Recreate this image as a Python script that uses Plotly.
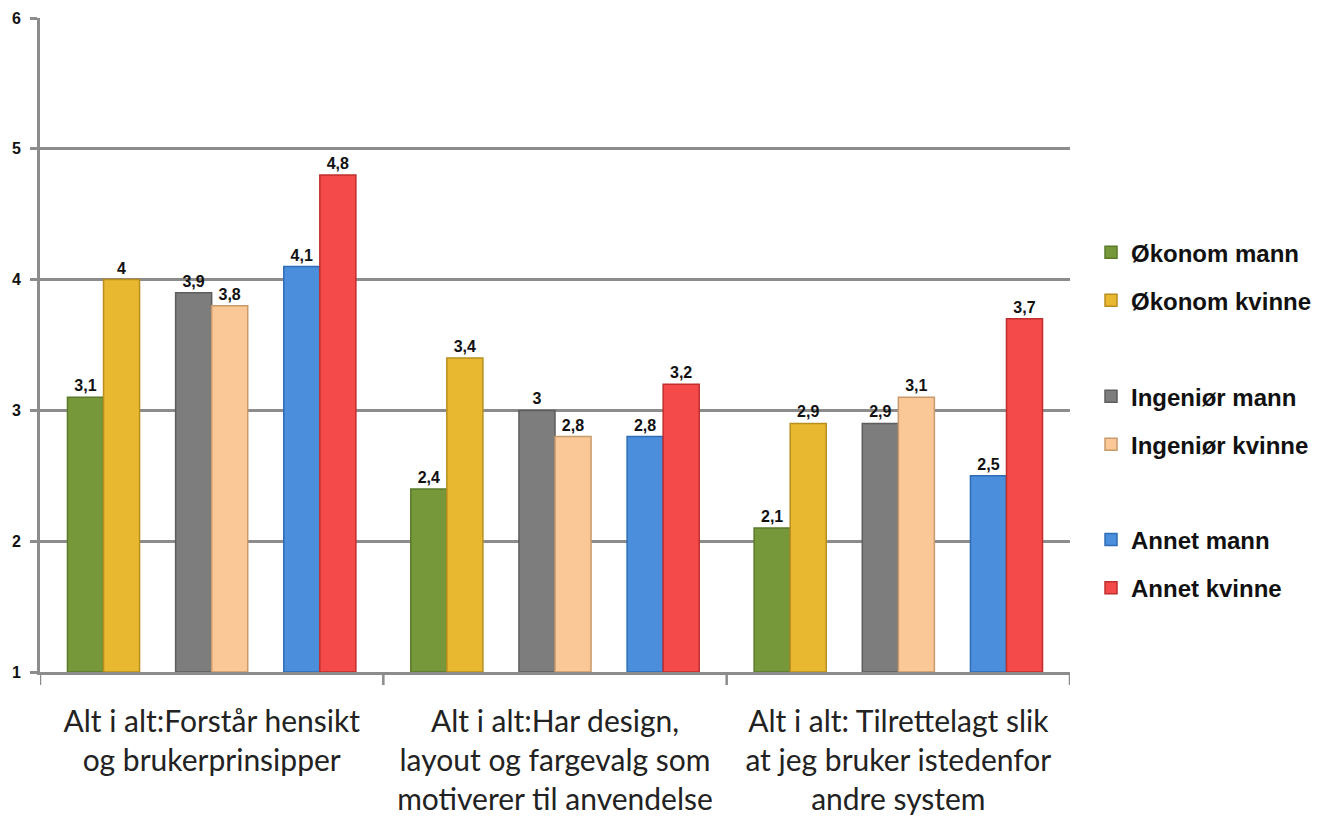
import plotly.graph_objects as go

# Categories (x-axis) and series
categories = [
    "Alt i alt:Forstår hensikt<br>og brukerprinsipper",
    "Alt i alt:Har design,<br>layout og fargevalg som<br>motiverer til anvendelse",
    "Alt i alt: Tilrettelagt slik<br>at jeg bruker istedenfor<br>andre system",
]
series_names = [
    "Økonom mann", "Økonom kvinne",
    "Ingeniør mann", "Ingeniør kvinne",
    "Annet mann", "Annet kvinne",
]
okonom_mann = [3.1, 2.4, 2.1]
okonom_kvinne = [4.0, 3.4, 2.9]
ingenior_mann = [3.9, 3.0, 2.9]
ingenior_kvinne = [3.8, 2.8, 3.1]
annet_mann = [4.1, 2.8, 2.5]
annet_kvinne = [4.8, 3.2, 3.7]
y_ticks = [1, 2, 3, 4, 5, 6]

series_values = [okonom_mann, okonom_kvinne, ingenior_mann,
                 ingenior_kvinne, annet_mann, annet_kvinne]

# Styling: fill, edge colour, bar offset within the category slot
fills = ["#76983B", "#E8B830", "#7D7D7D", "#FAC796", "#4A8EDC", "#F44A4A"]
edges = ["#5A7A2A", "#B88E1E", "#5E5E5E", "#C89A6C", "#2F6DB5", "#C02E2E"]
bar_w = 0.105
offsets = [-0.42, -0.315, -0.105, 0.0, 0.21, 0.315]
legend_ids = ["legend", "legend", "legend2", "legend2", "legend3", "legend3"]

fig = go.Figure()
for i, (name, vals) in enumerate(zip(series_names, series_values)):
    fig.add_trace(go.Bar(
        x=categories,
        y=[v - 1 for v in vals],
        base=1,
        name=name,
        width=bar_w,
        offset=offsets[i],
        marker=dict(color=fills[i], line=dict(color=edges[i], width=1.5)),
        text=[f"{v:g}".replace(".", ",") for v in vals],
        textposition="outside",
        cliponaxis=False,
        textfont=dict(family="Liberation Sans, Arial", size=16, color="#111111",
                      weight="bold"),
        legend=legend_ids[i],
        legendgroup=name,
        hovertemplate="%{x}<br>" + name + ": %{text}<extra></extra>",
    ))

legend_font = dict(family="Liberation Sans, Arial", size=24, color="#111111",
                   weight="bold")
legend_common = dict(x=1.0204, xanchor="left", yanchor="middle",
                     font=legend_font, tracegroupgap=14, bgcolor="rgba(0,0,0,0)",
                     itemwidth=30)

fig.update_layout(
    width=1333, height=818,
    margin=dict(l=40, r=263, t=18, b=146, autoexpand=False),
    paper_bgcolor="white",
    plot_bgcolor="white",
    barmode="overlay",
    showlegend=True,
    legend=dict(y=0.6047, **legend_common),
    legend2=dict(y=0.3845, **legend_common),
    legend3=dict(y=0.1651, **legend_common),
    xaxis=dict(
        type="category",
        automargin=False,
        showgrid=False,
        showline=True, linecolor="#8C8C8C", linewidth=3,
        ticks="",
        tickfont=dict(family="Lato, Open Sans, sans-serif", size=30, color="#222222"),
        ticklabelstandoff=21,
        range=[-0.5, 2.5],
    ),
    yaxis=dict(
        range=[1, 6],
        automargin=False,
        tickvals=y_ticks,
        showgrid=True, gridcolor="#8C8C8C", gridwidth=2.5,
        showline=True, linecolor="#8C8C8C", linewidth=3,
        ticks="outside", ticklen=7, tickcolor="#8C8C8C", tickwidth=2.5,
        tickfont=dict(family="Liberation Sans, Arial", size=16, color="#111111",
                      weight="bold"),
        ticklabelstandoff=6,
        zeroline=False,
    ),
    separators=", ",
)

# Boundary tick marks between categories on the x axis
for k in range(len(categories) + 1):
    fig.add_shape(type="line", xref="x", yref="paper",
                  x0=k - 0.5, x1=k - 0.5, y0=0, y1=-0.02,
                  line=dict(color="#8C8C8C", width=2.5))

fig.write_html("out.html")
